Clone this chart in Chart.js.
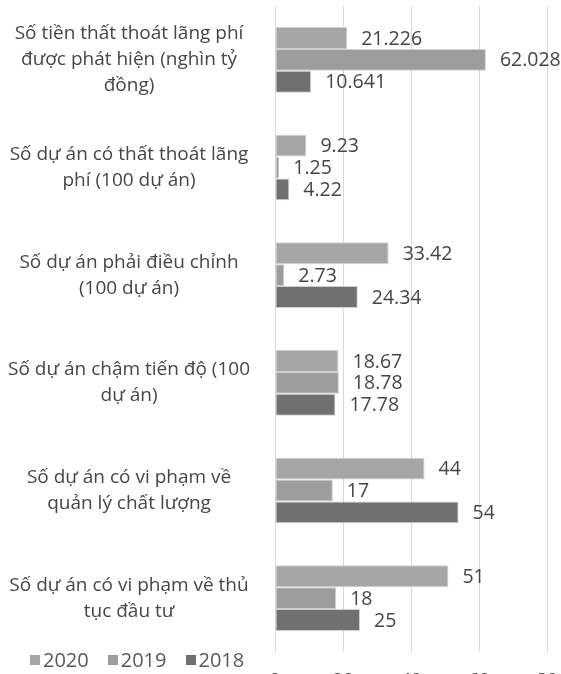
<!DOCTYPE html>
<html>
<head>
<meta charset="utf-8">
<script src="https://cdn.jsdelivr.net/npm/chart.js@4/dist/chart.umd.min.js"></script>
<style>
  html, body { margin: 0; padding: 0; background: #fff; overflow: hidden; }
  #wrap { position: relative; width: 561px; height: 700px; }
  #legend { position: absolute; left: 30px; top: 650px; font: 20px/20px "Open Sans", sans-serif; color: #595959; display: flex; }
  #legend span.item { display: flex; align-items: center; margin-right: 19px; }
  #legend span.box { display: inline-block; width: 10px; height: 10px; margin-right: 3px; }
</style>
</head>
<body>
<div id="wrap">
  <canvas id="chart" width="561" height="700"></canvas>
  <div id="legend"></div>
</div>
<script>
'use strict';

const categories = [
    ['Số tiền thất thoát lãng phí', 'được phát hiện (nghìn tỷ', 'đồng)'],
    ['Số dự án có thất thoát lãng', 'phí (100 dự án)'],
    ['Số dự án phải điều chỉnh', '(100 dự án)'],
    ['Số dự án chậm tiến độ (100', 'dự án)'],
    ['Số dự án có vi phạm về', 'quản lý chất lượng'],
    ['Số dự án có vi phạm về thủ', 'tục đầu tư']
];
const seriesNames = ['2020', '2019', '2018'];
const values2020 = [21.226, 9.23, 33.42, 18.67, 44, 51];
const values2019 = [62.028, 1.25, 2.73, 18.78, 17, 18];
const values2018 = [10.641, 4.22, 24.34, 17.78, 54, 25];
const xTicks = [0, 20, 40, 60, 80];

const colors = ['#a6a6a6', '#9d9d9d', '#707070'];
const textColor = '#464646';
const fontFamily = '"Open Sans", sans-serif';

// value labels to the right of each bar
const valueLabels = {
    id: 'valueLabels',
    afterDatasetsDraw(chart) {
        const ctx = chart.ctx;
        ctx.save();
        ctx.font = '19.5px ' + fontFamily;
        ctx.fillStyle = textColor;
        ctx.textAlign = 'left';
        ctx.textBaseline = 'middle';
        chart.data.datasets.forEach((ds, i) => {
            chart.getDatasetMeta(i).data.forEach((bar, j) => {
                ctx.fillText(String(ds.data[j]), bar.x + 14, bar.y + 1);
            });
        });
        ctx.restore();
    }
};

const ctx = document.getElementById('chart').getContext('2d');
const chart = new Chart(ctx, {
    type: 'bar',
    data: {
        labels: categories,
        datasets: [values2020, values2019, values2018].map((vals, i) => ({
            label: seriesNames[i],
            data: vals,
            backgroundColor: colors[i],
            borderColor: '#cfcfcf',
            borderWidth: 1,
            borderSkipped: false
        }))
    },
    options: {
        indexAxis: 'y',
        responsive: false,
        animation: false,
        layout: { padding: { top: 6, right: 14, left: 0, bottom: 0 } },
        datasets: {
            bar: { categoryPercentage: 0.61, barPercentage: 1 }
        },
        plugins: {
            legend: { display: false },
            tooltip: { enabled: false }
        },
        scales: {
            x: {
                min: 0,
                max: 80,
                afterBuildTicks: (scale) => { scale.ticks = xTicks.map(v => ({ value: v })); },
                afterFit: (scale) => {
                    scale.height = 48;
                    scale.paddingLeft = 0;
                    scale.paddingRight = 0;
                },
                grid: { color: '#d9d9d9', drawTicks: false },
                border: { display: false },
                ticks: { padding: 17, color: textColor, font: { family: fontFamily, size: 19 } }
            },
            y: {
                afterFit: (scale) => {
                    scale.width = 275;
                    scale.paddingTop = 0;
                    scale.paddingBottom = 0;
                },
                grid: { display: false },
                border: { display: false },
                ticks: {
                    crossAlign: 'center',
                    padding: 17,
                    color: textColor,
                    font: { family: fontFamily, size: 19, lineHeight: '26px' }
                }
            }
        }
    },
    plugins: [valueLabels]
});

// html legend
const legend = document.getElementById('legend');
chart.data.datasets.forEach(ds => {
    const item = document.createElement('span');
    item.className = 'item';
    const box = document.createElement('span');
    box.className = 'box';
    box.style.background = ds.backgroundColor;
    item.appendChild(box);
    item.appendChild(document.createTextNode(ds.label));
    legend.appendChild(item);
});
</script>
</body>
</html>
